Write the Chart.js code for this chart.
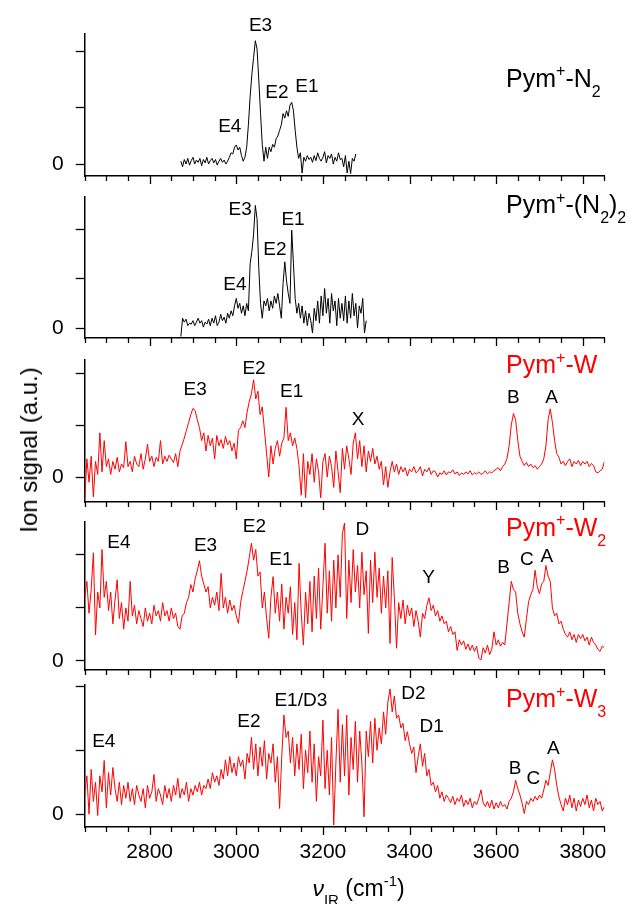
<!DOCTYPE html>
<html>
<head>
<meta charset="utf-8">
<title>IR spectra of Pym+ clusters</title>
<script src="https://cdn.jsdelivr.net/npm/chart.js@4.4.1/dist/chart.umd.min.js"></script>
<style>
  body { margin: 0; background: #fff; }
  #wrap { position: relative; width: 635px; height: 904px; overflow: hidden; }
  #wrap canvas { position: absolute; left: 0; }
  #ylab {
    position: absolute; left: 29px; top: 450px;
    transform: translate(-50%, -50%) rotate(-90deg);
    font: 24px "Liberation Sans", Arial, sans-serif; white-space: nowrap; color: #000;
  }
</style>
</head>
<body>
<div id="wrap">
  <canvas id="p1" width="635" height="186" style="top:0px"></canvas>
  <canvas id="p2" width="635" height="162" style="top:186px"></canvas>
  <canvas id="p3" width="635" height="164" style="top:348px"></canvas>
  <canvas id="p4" width="635" height="168" style="top:512px"></canvas>
  <canvas id="p5" width="635" height="224" style="top:680px"></canvas>
  <div id="ylab">Ion signal (a.u.)</div>
</div>
<script>
const FONT = '"Liberation Sans", Arial, sans-serif';

// N2-tagged scans: 2872..3276 / 3300 cm-1, every 4 cm-1
const N2_START = 2872, N2_STEP = 4;
const n2Signal = [
  0.05, -0.05, 0.08, 0.0, 0.1, -0.02, 0.06, 0.12, 0.0, 0.07,
  0.03, 0.1, -0.03, 0.08, 0.02, 0.12, 0.0, 0.06, 0.1, 0.02,
  0.08, -0.02, 0.05, 0.1, 0.03, 0.07, 0.0, 0.05, 0.12, 0.2,
  0.18, 0.3, 0.34, 0.25, 0.3, 0.15, 0.05, 0.12, 0.3, 0.7,
  1.2, 1.6, 1.9, 2.2, 2.05, 1.5, 0.9, 0.35, 0.05, 0.3,
  0.1, 0.3, 0.22, 0.35, 0.3, 0.45, 0.5, 0.6, 0.7, 0.9,
  0.82, 0.95, 0.85, 1.05, 1.1, 0.95, 0.6, 0.3, 0.1, 0.2,
  -0.16, 0.12, 0.05, 0.15, 0.08, 0.12, 0.03, 0.15, 0.06, 0.2,
  0.1, 0.05, 0.12, 0.22, 0.02, 0.15, 0.1, 0.18, 0.0, 0.12,
  0.05, 0.2, 0.08, 0.1, -0.05, 0.15, -0.16, 0.05, -0.17, 0.1,
  0.05, 0.18
];
const n2x2Signal = [
  -0.17, 0.2, 0.12, 0.18, 0.05, 0.1, 0.08, 0.15, 0.05, 0.12,
  0.2, 0.1, 0.15, 0.02, 0.12, 0.08, 0.18, 0.05, 0.2, 0.1,
  0.25, 0.05, 0.12, 0.28, 0.15, 0.22, 0.1, 0.3, 0.2, 0.35,
  0.25, 0.45, 0.6, 0.4, 0.5, 0.3, 0.45, 0.25, 0.5, 0.35,
  1.3, 1.55, 1.9, 2.48, 2.2, 1.2, 0.5, 0.2, 0.55, 0.45,
  0.6, 0.35, 0.55, 0.4, 0.65, 0.5, 0.7, 0.45, 0.2, 0.9,
  1.34, 0.95, 0.7, 0.5, 1.98, 1.3, 0.6, 0.3, 0.5, 0.2,
  0.45, 0.1, 0.35, 0.05, 0.3, 0.15, -0.1, 0.4, 0.15, 0.55,
  0.1, 0.65, 0.25, 0.8, 0.3, 0.6, 0.1, 0.7, 0.35, 0.55,
  0.05, 0.6, 0.2, 0.5, 0.15, 0.65, 0.1, 0.55, 0.2, 0.7,
  0.25, 0.5, 0.0, 0.45, 0.3, 0.6, -0.1, 0.15
];

// water clusters: 2650..3850 cm-1, every 5 cm-1
const W_START = 2650, W_STEP = 5;
const w1Signal = [
  -0.45, 0.35, -0.1, 0.4, -0.38, 0.3, 0.05, 0.85, 0.1, 0.7,
  0.2, 0.35, 0.05, 0.3, 0.15, 0.38, 0.1, 0.25, 0.18, 0.68,
  0.2, 0.3, 0.1, 0.4, 0.25, 0.2, 0.45, 0.15, 0.35, 0.63,
  0.3, 0.4, 0.2, 0.38, 0.3, 0.7, 0.25, 0.4, 0.3, 0.42,
  0.35, 0.28, 0.45, 0.2, 0.5, 0.62, 0.75, 0.9, 1.05, 1.2,
  1.32, 1.28, 1.1, 0.95, 0.7, 0.85, 0.5, 0.8, 0.6, 0.75,
  0.35, 0.8, 0.6, 0.72, 0.55, 0.78, 0.62, 0.7, 0.5, 0.65,
  0.35, 0.9, 0.95, 1.08, 0.95, 1.25, 1.45, 1.6, 1.87, 1.5,
  1.65, 1.2, 1.35, 0.9, 0.45, 0.0, 0.6, 0.25, 0.55, 0.7,
  0.4, 0.65, 0.75, 1.34, 0.7, 0.85, 0.6, 0.75, 0.55, 0.2,
  -0.35, 0.45, -0.4, 0.3, 0.05, 0.45, -0.1, 0.35, 0.1, -0.4,
  0.3, 0.45, 0.0, 0.4, 0.2, -0.2, 0.5, 0.1, -0.3, 0.55,
  0.15, 0.6, 0.35, 0.05, 0.65, 0.85, 0.35, 0.7, 0.2, 0.6,
  0.1, 0.5, 0.3, 0.55, 0.25, 0.4, 0.15, 0.3, -0.15, 0.2,
  -0.2, 0.1, 0.3, 0.1, 0.25, 0.05, 0.2, 0.1, 0.18, 0.02,
  0.15, 0.1, 0.2, 0.08, 0.12, 0.2, 0.02, 0.15, 0.1, 0.18,
  0.05, 0.12, 0.1, 0.0, 0.08, 0.05, 0.12, 0.04, 0.1, 0.08,
  0.14, 0.06, 0.1, 0.03, 0.08, 0.05, 0.1, 0.06, 0.12, 0.04,
  0.08, 0.06, 0.1, 0.05, 0.07, 0.12, 0.06, 0.1, 0.08, 0.12,
  0.15, 0.18, 0.12, 0.2, 0.25, 0.35, 0.6, 1.0, 1.22, 1.1,
  0.7, 0.4, 0.3, 0.22, 0.28, 0.2, 0.25, 0.18, 0.22, 0.15,
  0.2, 0.25, 0.35, 0.6, 1.1, 1.31, 1.05, 0.7, 0.45, 0.38,
  0.25, 0.3, 0.22, 0.3, 0.35, 0.2, 0.3, 0.25, 0.32, 0.22,
  0.3, 0.25, 0.3, 0.2, 0.26, 0.22, 0.1, 0.08, 0.12, 0.15,
  0.3
];
const w2Signal = [
  1.2, 1.5, 0.9, 1.35, 2.04, 0.49, 1.3, 1.0, 2.1, 1.2,
  1.5, 0.95, 1.3, 0.7, 1.15, 1.53, 0.8, 1.1, 0.6, 1.0,
  0.75, 1.5, 0.85, 1.05, 0.7, 0.95, 0.8, 0.65, 1.0, 0.75,
  0.9, 0.7, 1.05, 0.85, 0.95, 0.75, 1.1, 0.85, 0.95, 0.75,
  1.0, 0.8, 0.9, 0.65, 0.6, 0.85, 0.9, 1.1, 1.2, 1.44,
  1.3, 1.55, 1.7, 1.89, 1.6, 1.45, 1.3, 1.4, 1.0, 1.2,
  1.05, 1.3, 0.95, 1.65, 1.0, 1.2, 0.9, 1.15, 0.95, 1.05,
  0.85, 0.71, 1.1, 1.31, 1.5, 1.7, 1.95, 2.22, 1.9, 2.1,
  1.6, 1.68, 1.0, 1.3, 0.8, 0.43, 1.2, 1.59, 0.9, 1.3,
  0.75, 1.45, 0.6, 1.2, 0.9, 1.4, 0.5, 1.1, 0.4, 1.84,
  0.9, 0.3, 1.3, 0.7, 1.5, 0.55, 1.6, 0.8, 1.75, 0.6,
  1.4, 2.22, 0.9, 1.7, 0.75, 1.9, 1.0, 2.0, 1.2, 2.4,
  2.6, 0.8, 1.9, 1.1, 2.1, 1.3, 1.8, 1.0, 2.05, 1.25,
  1.7, 0.52, 1.9, 1.1, 2.05, 1.2, 1.75, 0.9, 1.6, 1.0,
  1.7, 0.33, 1.95, 1.2, 0.24, 1.1, 0.8, 1.15, 0.7, 1.05,
  0.85, 1.0, 0.65, 0.95, 0.75, 0.45, 0.9, 0.8, 1.05, 1.19,
  0.95, 1.05, 0.85, 0.95, 0.75, 0.85, 0.7, 0.75, 0.55, 0.65,
  0.5, 0.55, 0.2, 0.4, 0.3, 0.38, 0.22, 0.32, 0.2, 0.3,
  0.18, 0.28, 0.05, 0.02, 0.25, 0.15, 0.3, 0.12, 0.22, 0.55,
  0.3, 0.4, 0.28, 0.35, 0.3, 0.7, 1.1, 1.5, 1.35, 1.3,
  0.9, 0.7, 0.55, 0.45, 0.8, 1.12, 1.25, 1.35, 1.71, 1.4,
  1.27, 1.45, 1.5, 1.8, 1.6, 1.5, 1.0, 0.85, 0.9, 0.7,
  0.75, 0.6, 0.5, 0.45, 0.55, 0.4, 0.5, 0.35, 0.5, 0.42,
  0.5, 0.38, 0.45, 0.3, 0.45, 0.35, 0.3, 0.22, 0.18, 0.28,
  0.25
];
const w3Signal = [
  0.3, 0.6, 0.0, 0.7, 0.2, 0.5, -0.02, 0.6, 0.35, 0.84,
  0.1, 0.65, 0.3, 0.73, 0.4, 0.2, 0.5, 0.15, 0.45, 0.25,
  0.5, 0.2, 0.4, 0.15, 0.45, 0.3, 0.2, 0.4, 0.1, 0.45,
  0.25, 0.35, 0.62, 0.2, 0.4, 0.3, 0.15, 0.45, 0.25, 0.4,
  0.2, 0.45, 0.3, 0.56, 0.25, 0.4, 0.3, 0.5, 0.2, 0.4,
  0.3, 0.45, 0.35, 0.5, 0.3, 0.45, 0.4, 0.55, 0.4, 0.65,
  0.5, 0.6, 0.45, 0.7, 0.55, 0.85, 0.6, 0.9, 0.65, 0.8,
  0.6, 0.9, 0.75, 0.85, 0.55, 0.95, 0.8, 1.2, 0.7, 1.1,
  0.6, 1.05, 0.75, 1.15, 0.55, 0.95, 0.8, 1.1, 0.5, 0.9,
  0.09, 0.9, 1.55, 1.2, 1.3, 0.8, 1.2, 0.6, 1.1, 0.7,
  1.25, 0.4, 1.0, 0.65, 1.3, 0.5, 1.1, 0.2, 0.9, 0.6,
  1.47, 0.4, 1.0, 0.3, 1.2, -0.17, 0.8, 1.64, 0.5, 1.4,
  0.6, 1.55, 0.3, 1.2, 0.7, 1.45, 0.5, 1.3, 0.8, -0.04,
  1.3, 0.9, 1.45, 0.8, 1.5, 1.0, 1.35, 1.1, 1.6, 1.25,
  1.75, 1.96, 1.6, 1.85, 1.5, 1.55, 1.35, 1.42, 1.15, 1.29,
  1.1, 0.95, 1.05, 0.65, 0.9, 1.1, 0.75, 0.95, 0.6, 0.7,
  0.45, 0.5, 0.35, 0.45, 0.25, 0.35, 0.2, 0.3, 0.25, 0.18,
  0.28, 0.15, 0.25, 0.2, 0.3, 0.12, 0.22, 0.15, 0.25, 0.1,
  0.2, 0.15, 0.25, 0.38, 0.18, 0.12, 0.2, 0.1, 0.22, 0.08,
  0.18, 0.1, 0.2, 0.12, 0.15, 0.08, 0.2, 0.25, 0.35, 0.53,
  0.4, 0.3, 0.17, 0.01, 0.2, 0.15, 0.25, 0.2, 0.28, 0.22,
  0.3, 0.25, 0.38, 0.53, 0.45, 0.65, 0.85, 0.7, 0.45, 0.27,
  0.15, 0.05, 0.25, 0.15, 0.3, 0.1, 0.25, 0.05, 0.22, 0.12,
  0.25, 0.15, 0.3, 0.1, 0.22, 0.05, 0.25, 0.15, 0.2, 0.05,
  0.12
];

const xTickLabels = [2800, 3000, 3200, 3400, 3600, 3800];

// band labels: [text, wavenumber, signal]
const n2Peaks = [['E3', 3056, 2.46], ['E4', 2985, 0.66], ['E2', 3094, 1.27], ['E1', 3163, 1.37]];
const n2x2Peaks = [['E3', 3009, 2.4], ['E1', 3131, 2.18], ['E2', 3089, 1.58], ['E4', 2997, 0.87]];
const w1Peaks = [['E3', 2905, 1.67], ['E2', 3041, 2.09], ['E1', 3128, 1.64], ['X', 3281, 1.11], ['B', 3640, 1.52], ['A', 3728, 1.52]];
const w2Peaks = [['E4', 2729, 2.22], ['E3', 2929, 2.18], ['E2', 3042, 2.53], ['E1', 3103, 1.91], ['D', 3291, 2.47],
                 ['Y', 3444, 1.56], ['B', 3617, 1.75], ['C', 3671, 1.91], ['A', 3717, 1.97]];
const w3Peaks = [['E4', 2694, 1.13], ['E2', 3029, 1.44], ['E1/D3', 3149, 1.78], ['D2', 3409, 1.89], ['D1', 3451, 1.36],
                 ['B', 3644, 0.71], ['C', 3686, 0.55], ['A', 3732, 1.03]];

// species names, pieces tagged sup/sub
const n2Name = [['Pym'], ['+', 'sup'], ['-N'], ['2', 'sub']];
const n2x2Name = [['Pym'], ['+', 'sup'], ['-(N'], ['2', 'sub'], [')'], ['2', 'sub']];
const w1Name = [['Pym'], ['+', 'sup'], ['-W']];
const w2Name = [['Pym'], ['+', 'sup'], ['-W'], ['2', 'sub']];
const w3Name = [['Pym'], ['+', 'sup'], ['-W'], ['3', 'sub']];
const xTitle = [['\u03bd', 'ital'], ['IR', 'sub'], [' (cm'], ['-1', 'sup'], [')']];

function drawParts(ctx, parts, x, y, size, color, dry) {
  let cx = x;
  parts.forEach(([t, kind]) => {
    const small = kind === 'sub' || kind === 'sup';
    const fs = small ? Math.round(size * 0.64) : size;
    ctx.font = (kind === 'ital' ? 'italic ' : '') + fs + 'px ' + FONT;
    const dy = kind === 'sup' ? -size * 0.42 : kind === 'sub' ? size * 0.4 : 0;
    if (!dry) {
      ctx.fillStyle = color;
      ctx.textAlign = 'left';
      ctx.textBaseline = 'alphabetic';
      ctx.fillText(t, cx, y + dy);
    }
    cx += ctx.measureText(t).width;
  });
  return cx - x;
}

const panelDecor = {
  id: 'panelDecor',
  afterDraw(chart, args, opts) {
    const { ctx, chartArea } = chart;
    const x = chart.scales.x, y = chart.scales.y;
    ctx.save();
    // tick marks under each panel: every 50 cm-1, longer at labelled values
    ctx.strokeStyle = '#000';
    ctx.lineWidth = 1.3;
    for (let v = 2650; v <= 3850; v += 50) {
      const px = Math.round(x.getPixelForValue(v)) + 0.5;
      const len = v % 200 === 0 ? 8 : 5;
      ctx.beginPath();
      ctx.moveTo(px, chartArea.bottom);
      ctx.lineTo(px, chartArea.bottom + len);
      ctx.stroke();
    }
    ctx.fillStyle = '#000';
    ctx.font = '19px ' + FONT;
    ctx.textAlign = 'center';
    ctx.textBaseline = 'middle';
    opts.peaks.forEach(([t, wn, v]) => ctx.fillText(t, x.getPixelForValue(wn), y.getPixelForValue(v)));
    drawParts(ctx, opts.name, x.getPixelForValue(3623), y.getPixelForValue(opts.nameY), 25, opts.color);
    if (opts.xTitle) {
      const w = drawParts(ctx, xTitle, 0, 0, 23, '#000', true);
      const cx = (chartArea.left + chartArea.right) / 2 + 14;
      drawParts(ctx, xTitle, cx - w / 2, chartArea.bottom + 69, 23, '#000');
    }
    ctx.restore();
  }
};

function panel(id, cfg) {
  const pts = cfg.values.map((v, i) => ({ x: cfg.start + i * cfg.step, y: v }));
  return new Chart(document.getElementById(id), {
    type: 'line',
    data: {
      datasets: [{
        data: pts,
        borderColor: cfg.color,
        borderWidth: 1,
        borderJoinStyle: 'round',
        pointRadius: 0,
        tension: 0
      }]
    },
    options: {
      responsive: false,
      animation: false,
      devicePixelRatio: 1,
      layout: { padding: { top: cfg.padTop, right: 30.6, left: 0, bottom: 0 } },
      plugins: {
        legend: { display: false },
        tooltip: { enabled: false },
        panelDecor: { peaks: cfg.peaks, name: cfg.name, nameY: cfg.nameY, color: cfg.color, xTitle: cfg.last }
      },
      scales: {
        x: {
          type: 'linear', min: 2650, max: 3850,
          afterFit: (s) => { s.height = cfg.xh; s.paddingLeft = 0; s.paddingRight = 0; },
          border: { display: true, color: '#000', width: 1.5 },
          grid: { display: true, drawOnChartArea: false, drawTicks: false },
          afterBuildTicks: (s) => { s.ticks = xTickLabels.map(v => ({ value: v })); },
          ticks: {
            display: !!cfg.last, autoSkip: false, maxRotation: 0, padding: 13,
            color: '#000', font: { family: FONT, size: 21 },
            callback: (v) => String(v)
          }
        },
        y: {
          min: cfg.min, max: cfg.max,
          afterFit: (s) => { s.width = 84.7; s.paddingTop = 0; s.paddingBottom = 0; },
          border: { display: true, color: '#000', width: 1.5 },
          grid: { display: true, drawOnChartArea: false, drawTicks: true, tickLength: 9, tickColor: '#000', tickWidth: 1.3 },
          ticks: {
            stepSize: 1, includeBounds: false, padding: 12,
            color: '#000', font: { family: FONT, size: 21 },
            callback: (v) => (v === 0 ? '0' : '')
          }
        }
      }
    },
    plugins: [panelDecor]
  });
}

panel('p1', { values: n2Signal, start: N2_START, step: N2_STEP, color: '#000000', min: -0.214, max: 2.32,
  padTop: 34, xh: 10, peaks: n2Peaks, name: n2Name, nameY: 1.375 });
panel('p2', { values: n2x2Signal, start: N2_START, step: N2_STEP, color: '#000000', min: -0.2, max: 2.65,
  padTop: 11, xh: 10, peaks: n2x2Peaks, name: n2x2Name, nameY: 2.32 });
panel('p3', { values: w1Signal, start: W_START, step: W_STEP, color: '#ff0000', min: -0.48, max: 2.25,
  padTop: 12, xh: 10, peaks: w1Peaks, name: w1Name, nameY: 2.0 });
panel('p4', { values: w2Signal, start: W_START, step: W_STEP, color: '#ff0000', min: -0.17, max: 2.62,
  padTop: 10, xh: 10, peaks: w2Peaks, name: w2Name, nameY: 2.36 });
panel('p5', { values: w3Signal, start: W_START, step: W_STEP, color: '#ff0000', min: -0.2, max: 2.02,
  padTop: 5, xh: 77, peaks: w3Peaks, name: w3Name, nameY: 1.67, last: true });
</script>
</body>
</html>
